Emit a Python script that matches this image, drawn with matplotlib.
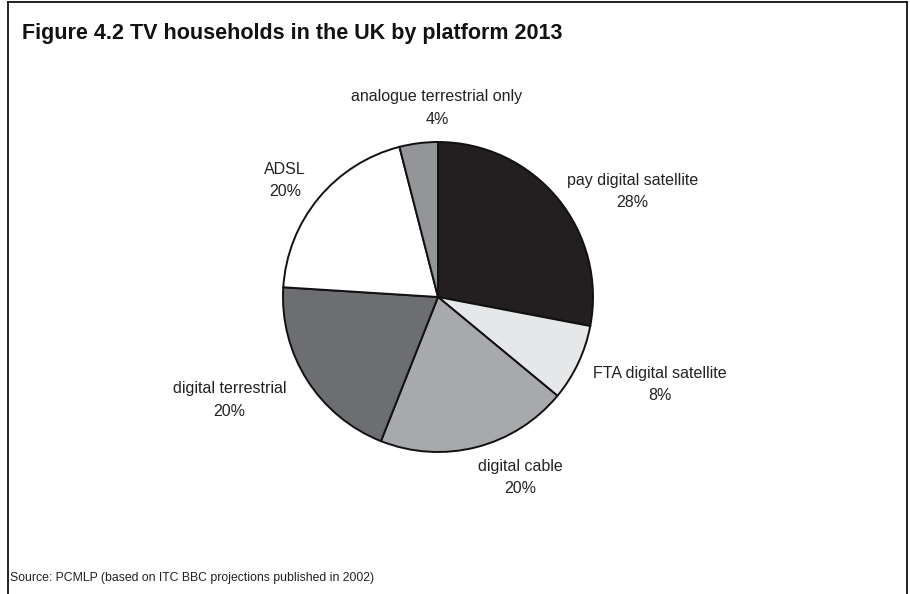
import numpy as np
import matplotlib.pyplot as plt
from matplotlib.lines import Line2D

platforms = ['pay digital satellite', 'FTA digital satellite', 'digital cable',
             'digital terrestrial', 'ADSL', 'analogue terrestrial only']
shares = [28, 8, 20, 20, 20, 4]
colours = ['#231f20', '#e6e7e8', '#a7a9ac', '#6d6e71', '#ffffff', '#939598']

# where each label sits: distance from centre (radius units) and angle nudge (deg)
label_dist = [1.43, 1.54, 1.28, 1.5, 1.24, 1.22]
label_nudge = [-11.1, 3.6, 10.0, -6.1, 2.2, -6.9]

W, H = 910, 594
cx, cy, R = 438, 297, 155

fig = plt.figure(figsize=(W / 100, H / 100), dpi=100)
ax = fig.add_axes([0, 0, 1, 1])

wedges, _ = ax.pie(shares, colors=colours, startangle=90, counterclock=False,
                   wedgeprops=dict(edgecolor='#111111', linewidth=1.4))

# pie() resets the limits, so fix the scale afterwards
ax.set_xlim(-cx / R, (W - cx) / R)
ax.set_ylim(-(H - cy) / R, cy / R)
ax.set_aspect('equal')
ax.axis('off')

font = ['Liberation Sans', 'DejaVu Sans']
for w, name, val, d, nudge in zip(wedges, platforms, shares, label_dist, label_nudge):
    ang = np.deg2rad((w.theta1 + w.theta2) / 2 + nudge)
    ax.text(d * np.cos(ang), d * np.sin(ang), f'{name}\n{val}%',
            ha='center', va='center', fontsize=11.5, color='#222222',
            family=font, linespacing=1.6)

fig.text(22 / W, 1 - 33 / H, 'Figure 4.2 TV households in the UK by platform 2013',
         fontsize=15.5, fontweight='bold', family=font, va='center', color='#111111')
fig.text(10 / W, 1 - 578 / H, 'Source: PCMLP (based on ITC BBC projections published in 2002)',
         fontsize=8.8, family=font, va='center', color='#222222')

# box around the figure (open at the bottom)
frame = dict(color='#111111', linewidth=1.3, transform=fig.transFigure)
fig.add_artist(Line2D([8 / W, 8 / W], [0, 1 - 1.5 / H], **frame))
fig.add_artist(Line2D([8 / W, 907 / W], [1 - 1.5 / H, 1 - 1.5 / H], **frame))
fig.add_artist(Line2D([907 / W, 907 / W], [1 - 1.5 / H, 0], **frame))

fig.savefig('out.png', dpi=100)
